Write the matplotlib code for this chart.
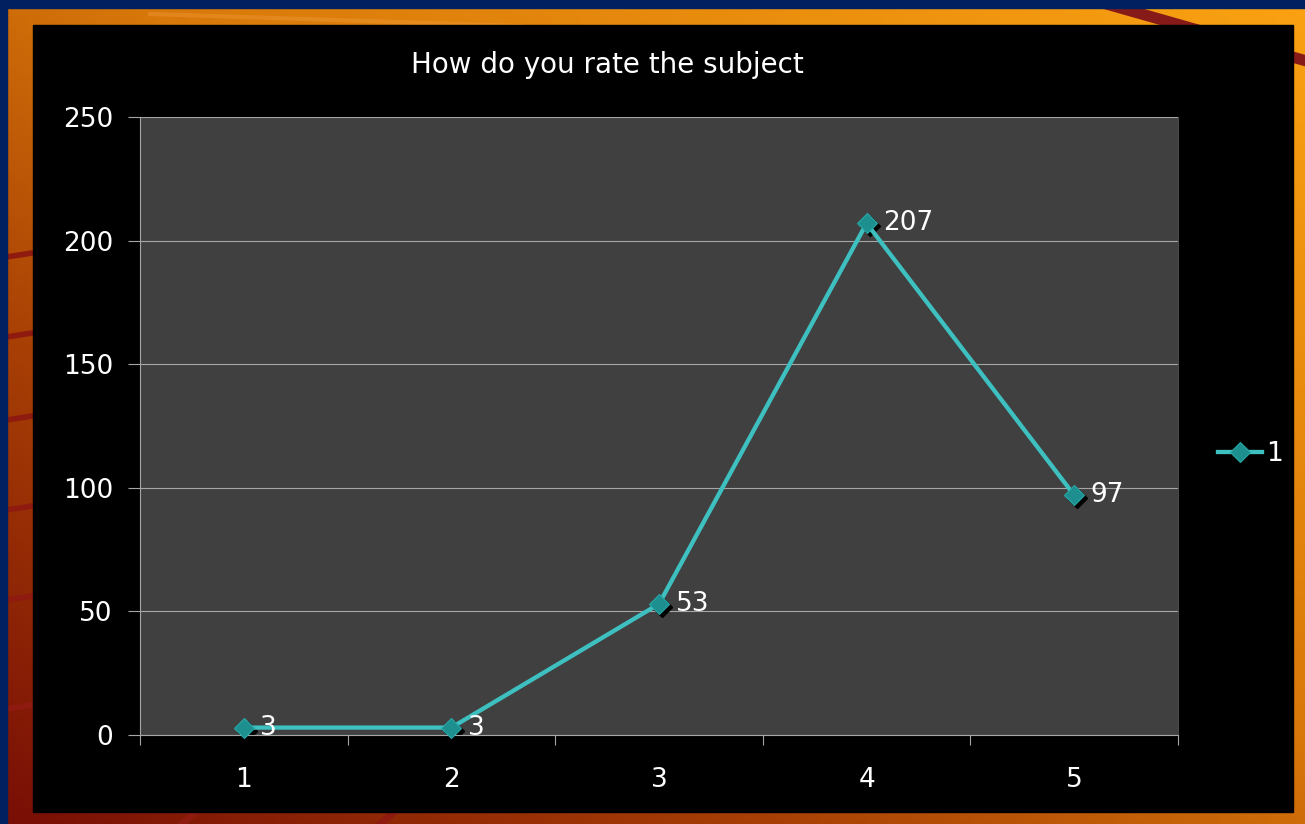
import numpy as np
import matplotlib
matplotlib.use("Agg")
import matplotlib.pyplot as plt
from matplotlib.patches import Rectangle
from matplotlib.lines import Line2D
from matplotlib.transforms import offset_copy

# ratings and number of answers
ratings = [1, 2, 3, 4, 5]
answers = [3, 3, 53, 207, 97]
y_ticks = [0, 50, 100, 150, 200, 250]
series_name = "1"
title = "How do you rate the subject"

W, H = 1305, 824
plt.rcParams['font.family'] = ['DejaVu Sans']

fig = plt.figure(figsize=(W / 100, H / 100), dpi=100)

# slide background: orange -> dark red gradient with a few stripes
bg = fig.add_axes([0, 0, 1, 1])
bg.axis('off')
xx, yy = np.meshgrid(np.linspace(0, 1, 300), np.linspace(0, 1, 200))
t = 0.5 * xx + 0.5 * (1 - yy)
stops = [0.0, 0.3, 0.55, 1.0]
cols = np.array([[0x78, 0x0e, 0x05], [0xa8, 0x40, 0x05],
                 [0xd8, 0x78, 0x0a], [0xfa, 0xa2, 0x12]]) / 255
img = np.dstack([np.interp(t, stops, cols[:, c]) for c in range(3)])
bg.imshow(img, extent=(0, W, H, 0), aspect='auto', zorder=0)

stripe = '#8e1a10'
for y in [255, 335, 418, 508, 598, 707]:
    bg.plot([0, 45], [y + 3, y - 4], color=stripe, lw=4, zorder=1)
for x in [185, 383]:
    bg.plot([x - 10, x + 25], [830, 800], color=stripe, lw=5, zorder=1)
bg.plot([1110, 1310], [5, 62], color='#851a18', lw=8, zorder=1)
bg.plot([150, 520], [14, 26], color='#f4a040', lw=3, alpha=0.35, zorder=1)

bg.add_patch(Rectangle((0, 0), W, 8, color='#002060', zorder=2))
bg.add_patch(Rectangle((0, 0), 7, H, color='#002060', zorder=2))
bg.add_patch(Rectangle((33, 25), 1260, 787, color='black', zorder=3))
bg.set_xlim(0, W)
bg.set_ylim(H, 0)

# chart
ax = fig.add_axes([140 / W, 1 - 735 / H, 1038 / W, 618 / H])
ax.set_facecolor('#404040')
ax.set_xlim(0.5, 5.5)
ax.set_ylim(0, 250)
ax.set_yticks(y_ticks)
ax.set_xticks(ratings)
ax.set_xticks(np.arange(0.5, 6, 1), minor=True)
ax.grid(axis='y', color='#a6a6a6', lw=0.8)
ax.set_axisbelow(True)

ax.spines['top'].set_visible(False)
ax.spines['right'].set_color('#4a4a4a')
ax.spines['left'].set_color('#a6a6a6')
ax.spines['bottom'].set_color('#a6a6a6')
ax.tick_params(axis='y', colors='#a6a6a6', length=8.5, width=0.8, pad=11,
               labelcolor='white', labelsize=19)
ax.tick_params(axis='x', which='major', length=0, pad=23,
               labelcolor='white', labelsize=19)
ax.tick_params(axis='x', which='minor', length=7, width=0.8, colors='#a6a6a6')

line_col = '#3ec0c0'
shadow = offset_copy(ax.transData, fig=fig, x=3, y=-3, units='dots')
ax.plot(ratings, answers, 'D', ms=10, color='black', transform=shadow,
        zorder=2, clip_on=False)
ax.plot(ratings, answers, '-', color=line_col, lw=3.1, zorder=3, clip_on=False)
ax.plot(ratings, answers, 'D', ms=10, mfc='#1d8f8f', mec='#2aa8a8', mew=0.8,
        zorder=4, clip_on=False)

for x, v in zip(ratings, answers):
    ax.annotate(str(v), (x, v), xytext=(12, 0), textcoords='offset points',
                va='center', ha='left', color='white', fontsize=19, zorder=5)

fig.text(607.5 / W, 1 - 65 / H, title, color='white', fontsize=20,
         ha='center', va='center')

handle = Line2D([], [], color=line_col, lw=3.1, marker='D', ms=10,
                mfc='#1d8f8f', mec='#2aa8a8', mew=0.8)
fig.legend([handle], [series_name], loc='center left',
           bbox_to_anchor=(1218 / W, 1 - 454 / H), frameon=False,
           borderpad=0, borderaxespad=0, handlelength=1.67,
           handletextpad=0.15, labelcolor='white', fontsize=19)

fig.savefig('out.png', dpi=100)
